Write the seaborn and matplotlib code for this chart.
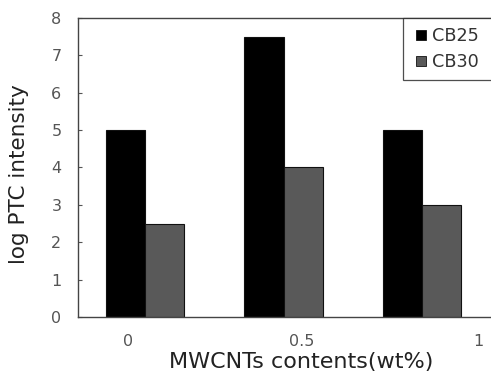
import matplotlib
matplotlib.use("Agg")
import matplotlib.pyplot as plt
from matplotlib.lines import Line2D
import seaborn as sns
import pandas as pd

categories = ["0", "0.5", "1"]
cb25 = [5.0, 7.5, 5.0]
cb30 = [2.5, 4.0, 3.0]
series_names = ["CB25", "CB30"]
series_colors = ["#000000", "#595959"]
y_ticks = [0, 1, 2, 3, 4, 5, 6, 7, 8]

df = pd.DataFrame({
    "cat": categories * 2,
    "val": cb25 + cb30,
    "series": [series_names[0]] * 3 + [series_names[1]] * 3,
})

sns.set_style("white")
plt.rcParams["font.family"] = ["DejaVu Sans"]

fig = plt.figure(figsize=(4.91, 3.71), dpi=100)
ax = fig.add_axes([0.159, 0.1456, 0.908, 0.806])

sns.barplot(data=df, x="cat", y="val", hue="series", order=categories,
            hue_order=series_names, palette=series_colors,
            width=0.565, edgecolor="#111111", linewidth=0.8, ax=ax,
            errorbar=None, legend=False)

ax.set_xlim(-0.484, 2.736)
ax.set_ylim(0, 8)
ax.set_yticks(y_ticks)
ax.set_yticklabels([str(t) for t in y_ticks])
# category tick labels as placed in the reference
ax.set_xticks([-0.123, 1.13, 2.404])
ax.set_xticklabels(categories)
ax.tick_params(axis="x", length=0, pad=12, labelsize=11.5, labelcolor="#555555")
ax.tick_params(axis="y", direction="in", length=3, width=0.8, pad=12,
               labelsize=11.5, labelcolor="#555555", left=True, color="#555555")

for side in ["left", "bottom", "top"]:
    ax.spines[side].set_visible(True)
    ax.spines[side].set_color("#444444")
    ax.spines[side].set_linewidth(1.0)
ax.spines["right"].set_visible(False)

ax.set_xlabel("MWCNTs contents(wt%)", fontsize=16, color="#222222")
ax.set_ylabel("log PTC intensity", fontsize=15.5, color="#222222")
ax.xaxis.set_label_coords(0.5, -0.118)
ax.yaxis.set_label_coords(-0.11, 0.478)

handles = [Line2D([], [], linestyle="none", marker="s", markersize=6.5,
                  markerfacecolor=c, markeredgecolor="#111111", markeredgewidth=0.6)
           for c in series_colors]
leg = ax.legend(handles, series_names, loc="upper left",
                bbox_to_anchor=((403 - 78) / 446, 0.0, (497 - 403) / 446, 1.0),
                mode="expand",
                frameon=True, fancybox=False, edgecolor="#222222",
                fontsize=12.7, handlelength=1.0, handleheight=0.7,
                handletextpad=0.15, borderpad=0.5, labelspacing=0.45,
                borderaxespad=0)
leg.get_frame().set_linewidth(0.9)
for t in leg.get_texts():
    t.set_color("#333333")

fig.savefig("out.png", dpi=100)
